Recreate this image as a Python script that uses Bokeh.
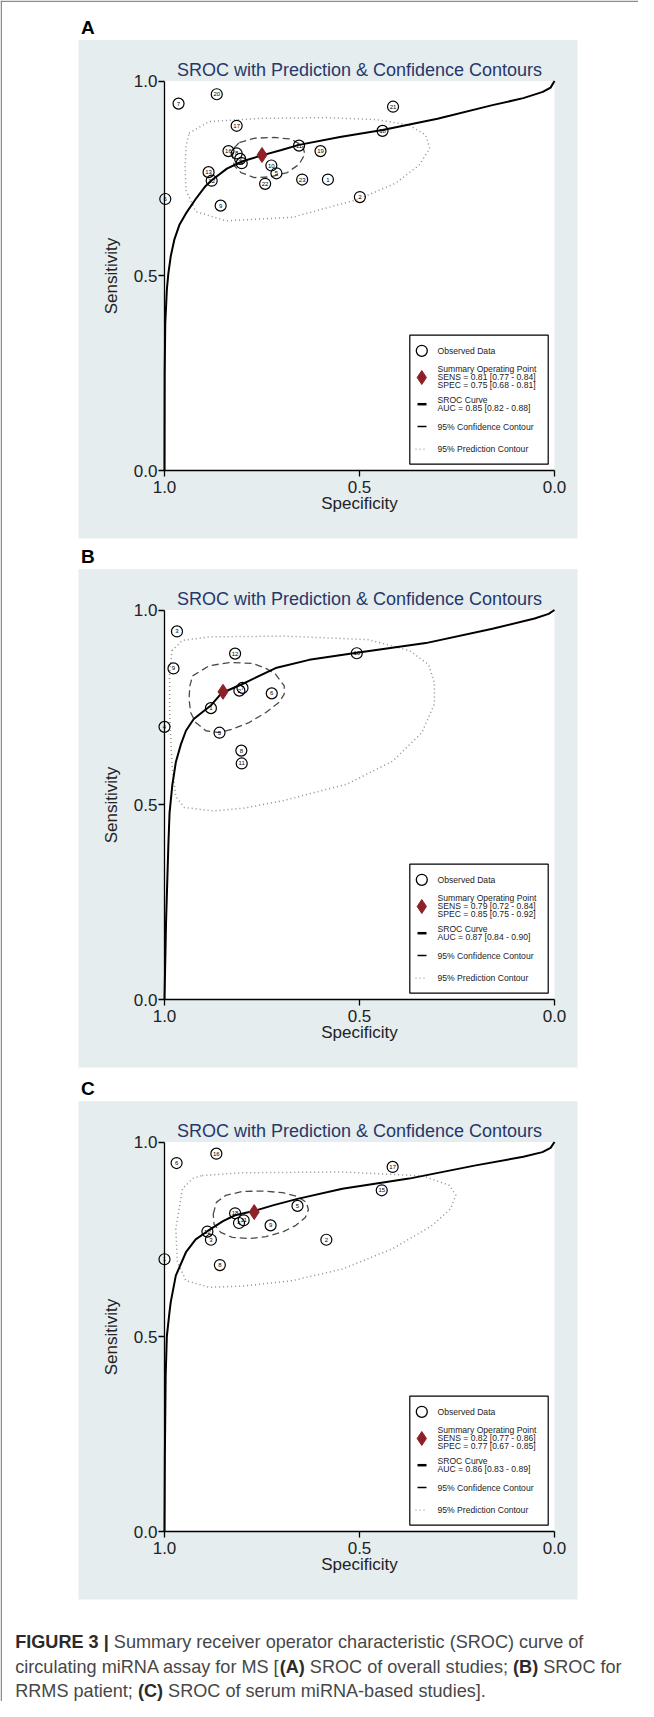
from bokeh.plotting import figure
from bokeh.models import Range1d, LinearAxis, FixedTicker, NumeralTickFormatter
from bokeh.core.properties import value
from bokeh.embed import file_html
from bokeh.resources import INLINE

# ---------------- data ----------------
# Panel A: overall studies
A_labels = ["1", "2", "3", "4", "5", "6", "7", "8", "9", "10", "11", "12", "13",
            "16", "17", "18", "19", "20", "21", "22", "23"]
A_spec = [0.581, 0.499, 0.806, 0.802, 0.713, 0.998, 0.964, 0.815, 0.856, 0.726, 0.655,
          0.879, 0.887, 0.836, 0.815, 0.441, 0.600, 0.866, 0.414, 0.742, 0.647]
A_sens = [0.747, 0.702, 0.800, 0.789, 0.763, 0.697, 0.942, 0.814, 0.680, 0.783, 0.834,
          0.744, 0.766, 0.820, 0.885, 0.872, 0.820, 0.966, 0.934, 0.736, 0.747]
A_summary_spec = [0.75]
A_summary_sens = [0.81]
A_curve_spec = [1.000, 0.9995, 0.998, 0.996, 0.994, 0.990, 0.984, 0.975, 0.962, 0.945, 0.920,
                0.895, 0.879, 0.840, 0.800, 0.750, 0.700, 0.655, 0.550, 0.441, 0.300, 0.159,
                0.080, 0.030, 0.010, 0.000]
A_curve_sens = [0.000, 0.250, 0.380, 0.420, 0.464, 0.507, 0.550, 0.592, 0.630, 0.660, 0.697,
                0.730, 0.745, 0.775, 0.794, 0.809, 0.823, 0.836, 0.856, 0.874, 0.903, 0.938,
                0.956, 0.972, 0.983, 1.000]
A_conf_spec = [0.808, 0.770, 0.719, 0.676, 0.646, 0.640, 0.655, 0.685, 0.727, 0.770, 0.804,
               0.821, 0.826, 0.821]
A_conf_sens = [0.842, 0.853, 0.855, 0.851, 0.834, 0.812, 0.786, 0.765, 0.754, 0.752, 0.765,
               0.782, 0.812, 0.829]
A_pred_spec = [0.937, 0.885, 0.757, 0.586, 0.458, 0.373, 0.330, 0.320, 0.347, 0.407, 0.501,
               0.672, 0.843, 0.920, 0.945, 0.947, 0.945]
A_pred_sens = [0.866, 0.896, 0.904, 0.906, 0.901, 0.887, 0.861, 0.827, 0.784, 0.738, 0.697,
               0.650, 0.641, 0.665, 0.720, 0.780, 0.831]
A_stats = ["SENS = 0.81 [0.77 - 0.84]", "SPEC = 0.75 [0.68 - 0.81]", "AUC = 0.85 [0.82 - 0.88]"]

# Panel B: RRMS patients
B_labels = ["1", "2", "3", "4", "5", "6", "7", "8", "9", "10", "11", "12"]
B_spec = [0.881, 0.808, 0.968, 1.000, 0.859, 0.725, 0.800, 0.803, 0.977, 0.507, 0.802, 0.819]
B_sens = [0.748, 0.793, 0.945, 0.700, 0.685, 0.786, 0.800, 0.639, 0.850, 0.889, 0.606, 0.888]
B_summary_spec = [0.85]
B_summary_sens = [0.79]
B_curve_spec = [1.000, 0.998, 0.996, 0.993, 0.990, 0.987, 0.980, 0.971, 0.958, 0.945, 0.925,
                0.900, 0.881, 0.853, 0.800, 0.715, 0.629, 0.507, 0.330, 0.159, 0.051, 0.015,
                0.000]
B_curve_sens = [0.000, 0.100, 0.200, 0.300, 0.400, 0.480, 0.550, 0.609, 0.655, 0.690, 0.720,
                0.740, 0.755, 0.787, 0.810, 0.851, 0.872, 0.890, 0.915, 0.952, 0.978, 0.990,
                1.000]
B_conf_spec = [0.928, 0.885, 0.834, 0.774, 0.740, 0.715, 0.693, 0.693, 0.706, 0.740, 0.783,
               0.826, 0.860, 0.894, 0.920, 0.933, 0.937, 0.935]
B_conf_sens = [0.831, 0.857, 0.865, 0.863, 0.850, 0.835, 0.805, 0.784, 0.763, 0.737, 0.711,
               0.694, 0.685, 0.690, 0.711, 0.737, 0.771, 0.805]
B_pred_spec = [0.981, 0.954, 0.885, 0.693, 0.479, 0.372, 0.323, 0.308, 0.308, 0.340, 0.415,
               0.532, 0.693, 0.799, 0.874, 0.949, 0.971, 0.981, 0.987, 0.987]
B_pred_sens = [0.896, 0.922, 0.931, 0.933, 0.924, 0.896, 0.860, 0.814, 0.759, 0.685, 0.612,
               0.553, 0.511, 0.491, 0.484, 0.493, 0.521, 0.603, 0.740, 0.832]
B_stats = ["SENS = 0.79 [0.72 - 0.84]", "SPEC = 0.85 [0.75 - 0.92]", "AUC = 0.87 [0.84 - 0.90]"]

# Panel C: serum miRNA-based studies
C_labels = ["1", "2", "3", "4", "5", "6", "8", "9", "11", "12", "15", "16", "17", "18"]
C_spec = [1.000, 0.585, 0.881, 0.809, 0.659, 0.969, 0.858, 0.728, 0.797, 0.890, 0.443, 0.867,
          0.415, 0.819]
C_sens = [0.699, 0.749, 0.749, 0.792, 0.836, 0.946, 0.684, 0.786, 0.799, 0.770, 0.876, 0.970,
          0.936, 0.817]
C_summary_spec = [0.77]
C_summary_sens = [0.82]
C_curve_spec = [1.000, 0.999, 0.997, 0.994, 0.987, 0.984, 0.971, 0.945, 0.920, 0.890, 0.850,
                0.819, 0.774, 0.720, 0.659, 0.544, 0.373, 0.202, 0.080, 0.031, 0.010, 0.000]
C_curve_sens = [0.000, 0.200, 0.400, 0.501, 0.565, 0.589, 0.657, 0.717, 0.750, 0.771, 0.797,
                0.812, 0.822, 0.838, 0.854, 0.880, 0.906, 0.940, 0.962, 0.974, 0.985, 1.000]
C_conf_spec = [0.875, 0.867, 0.843, 0.800, 0.749, 0.697, 0.659, 0.636, 0.631, 0.639, 0.663,
               0.697, 0.740, 0.783, 0.826, 0.856, 0.873]
C_conf_sens = [0.815, 0.845, 0.863, 0.873, 0.874, 0.870, 0.860, 0.845, 0.826, 0.806, 0.786,
               0.769, 0.757, 0.752, 0.755, 0.768, 0.789]
C_pred_spec = [0.903, 0.800, 0.544, 0.338, 0.270, 0.253, 0.266, 0.313, 0.415, 0.544, 0.672,
               0.800, 0.885, 0.945, 0.967, 0.971, 0.954, 0.928]
C_pred_sens = [0.914, 0.921, 0.923, 0.913, 0.889, 0.863, 0.829, 0.786, 0.726, 0.674, 0.644,
               0.630, 0.627, 0.644, 0.692, 0.777, 0.880, 0.906]
C_stats = ["SENS = 0.82 [0.77 - 0.86]", "SPEC = 0.77 [0.67 - 0.85]", "AUC = 0.86 [0.83 - 0.89]"]

TITLE = "SROC with Prediction & Confidence Contours"
# caption: (text, bold) runs per line
CAPTION = [
    [("FIGURE 3 |", True), (" Summary receiver operator characteristic (SROC) curve of", False)],
    [("circulating miRNA assay for MS [", False), ("(A)", True), (" SROC of overall studies; ", False),
     ("(B)", True), (" SROC for", False)],
    [("RRMS patient; ", False), ("(C)", True), (" SROC of serum miRNA-based studies].", False)],
]

# ---------------- layout (canvas pixels) ----------------
W, H = 638, 1701
XL, XR = 164.0, 554.0      # canvas x of specificity 1.0 and 0.0
PH = 389.5                 # height of the unit square
FONT = "Liberation Sans"
CAP_SIZE = 18.1

# Arial-compatible advance widths (1/1000 em) used to lay out mixed bold/regular caption runs
REG_W = {' ': 278, '(': 333, ')': 333, '[': 278, ']': 278, ';': 278, '-': 333, '.': 278, '|': 260,
         'A': 667, 'B': 667, 'C': 722, 'M': 833, 'N': 722, 'O': 778, 'R': 722, 'S': 667,
         'a': 556, 'b': 556, 'c': 500, 'd': 556, 'e': 556, 'f': 278, 'g': 556, 'h': 556,
         'i': 222, 'l': 222, 'm': 833, 'n': 556, 'o': 556, 'p': 556, 'r': 333, 's': 500,
         't': 278, 'u': 556, 'v': 500, 'y': 500}
BOLD_W = {' ': 278, '(': 333, ')': 333, '|': 280, '3': 556, 'A': 722, 'B': 722, 'C': 722,
          'E': 667, 'F': 611, 'G': 778, 'I': 278, 'R': 722, 'U': 722}


def text_width(s, bold):
    table = BOLD_W if bold else REG_W
    return sum(table.get(ch, 556) for ch in s) / 1000.0 * CAP_SIZE


p = figure(width=W, height=H, x_range=Range1d(0, W), y_range=Range1d(H, 0),
           x_axis_type=None, y_axis_type=None, output_backend="svg",
           toolbar_location=None, min_border=0, outline_line_color=None)
p.background_fill_color = "white"
p.border_fill_color = "white"

panels = [
    ("A", 80.5, A_labels, A_spec, A_sens, A_summary_spec, A_summary_sens, A_curve_spec, A_curve_sens,
     A_conf_spec, A_conf_sens, A_pred_spec, A_pred_sens, A_stats),
    ("B", 609.5, B_labels, B_spec, B_sens, B_summary_spec, B_summary_sens, B_curve_spec, B_curve_sens,
     B_conf_spec, B_conf_sens, B_pred_spec, B_pred_sens, B_stats),
    ("C", 1141.5, C_labels, C_spec, C_sens, C_summary_spec, C_summary_sens, C_curve_spec, C_curve_sens,
     C_conf_spec, C_conf_sens, C_pred_spec, C_pred_sens, C_stats),
]

xr_all, yr_all = {}, {}
for key, top, *_ in panels:
    xr_all["x" + key] = Range1d(1 + XL / (XR - XL), 1 - (W - XL) / (XR - XL))
    yr_all["y" + key] = Range1d(1 - (H - top) / PH, 1 + top / PH)
p.extra_x_ranges = xr_all
p.extra_y_ranges = yr_all

# page border (left and top)
p.segment(x0=[0.75, 0], y0=[0, 0.75], x1=[0.75, W], y1=[H, 0.75], line_color="#8c8c8c", line_width=1.5)

for (key, top, labels, spec, sens, sspec, ssens, cspec, csens,
     fspec, fsens, pspec, psens, stats) in panels:
    bottom = top + PH
    rn = dict(x_range_name="x" + key, y_range_name="y" + key)
    # panel background
    p.quad(left=[78], right=[577], top=[top - 41], bottom=[bottom + 68],
           fill_color="#e5edef", line_color=None)
    # white data area
    p.quad(left=[1], right=[0], bottom=[0], top=[1], fill_color="white", line_color=None, **rn)
    # panel letter & title
    p.text(x=[80.5], y=[top - 54], text=[key], text_font=value(FONT), text_font_size="19px",
           text_font_style="bold", text_baseline="middle", text_align="left", text_color="black")
    p.text(x=[359], y=[top - 11.5], text=[TITLE], text_font=value(FONT), text_font_size="18px",
           text_baseline="middle", text_align="center", text_color="#26386a")

    # contours and curve
    p.line(pspec + pspec[:1], psens + psens[:1], line_color="#8f8f8f", line_width=1.5,
           line_dash="1 3", **rn)
    p.line(fspec + fspec[:1], fsens + fsens[:1], line_color="#4a4a4a", line_width=1.3,
           line_dash="7 4", **rn)
    p.line(cspec, csens, line_color="black", line_width=2, **rn)

    # observed data
    p.scatter(spec, sens, marker="circle", size=11, fill_color=None, line_color="black",
              line_width=1.2, **rn)
    p.text(spec, sens, text=labels, text_font=value(FONT), text_font_size="6px",
           text_align="center", text_baseline="middle", text_color="black", **rn)
    # summary operating point
    p.scatter(sspec, ssens, marker="diamond", size=15, fill_color="#8e2127",
              line_color="#8e2127", **rn)

    # axes
    yax = LinearAxis(fixed_location=1.0, bounds=(0, 1), ticker=FixedTicker(ticks=[0, 0.5, 1]),
                     formatter=NumeralTickFormatter(format="0.0"), axis_label="Sensitivity", **rn)
    xax = LinearAxis(fixed_location=0.0, bounds=(0, 1), ticker=FixedTicker(ticks=[0, 0.5, 1]),
                     formatter=NumeralTickFormatter(format="0.0"), axis_label="Specificity", **rn)
    for ax in (yax, xax):
        ax.axis_line_color = "black"
        ax.axis_line_width = 1.3
        ax.major_tick_line_color = "black"
        ax.major_tick_line_width = 1.3
        ax.major_tick_out = 6
        ax.major_tick_in = 0
        ax.minor_tick_out = 0
        ax.minor_tick_in = 0
        ax.major_label_text_font = FONT
        ax.major_label_text_font_size = "17px"
        ax.major_label_text_color = "#222222"
        ax.axis_label_text_font = FONT
        ax.axis_label_text_font_size = "17px"
        ax.axis_label_text_font_style = "normal"
        ax.axis_label_text_color = "#222222"
    yax.major_label_standoff = 1
    yax.axis_label_standoff = 10
    xax.major_label_standoff = 4
    xax.axis_label_standoff = -2
    p.add_layout(yax, "left")
    p.add_layout(xax, "below")

    # legend box
    lt = top + 254.2
    p.quad(left=[409.3], right=[547.7], top=[lt], bottom=[lt + 129], fill_color="white",
           line_color="black", line_width=1.2)
    p.scatter([421.3], [lt + 15.6], marker="circle", size=11, fill_color=None,
              line_color="black", line_width=1.3)
    p.scatter([421.3], [lt + 42.3], marker="diamond", size=14, fill_color="#8e2127",
              line_color="#8e2127")
    p.segment(x0=[417], y0=[lt + 69], x1=[426], y1=[lt + 69], line_color="black", line_width=2.5)
    p.segment(x0=[417], y0=[lt + 91.3], x1=[426], y1=[lt + 91.3], line_color="black",
              line_width=1.5)
    p.segment(x0=[415], y0=[lt + 114], x1=[426], y1=[lt + 114], line_color="#9a9a9a",
              line_width=1.3, line_dash="1 3")
    leg_y = [lt + 15.6, lt + 34, lt + 41.8, lt + 49.6, lt + 64.8, lt + 72.8, lt + 91.3, lt + 114]
    leg_t = ["Observed Data", "Summary Operating Point", stats[0], stats[1], "SROC Curve",
             stats[2], "95% Confidence Contour", "95% Prediction Contour"]
    p.text(x=[437] * len(leg_t), y=leg_y, text=leg_t, text_font=value(FONT),
           text_font_size="8.6px", text_baseline="middle", text_align="left",
           text_color="#222222")

# caption (runs laid out left to right)
cap_y = [1641.5, 1666.3, 1690.5]
for line, cy in zip(CAPTION, cap_y):
    cx = 14.7
    for txt, bold in line:
        lead = len(txt) - len(txt.lstrip(" "))
        shown = txt.strip(" ")
        x0 = cx + text_width(" " * lead, bold)
        p.text(x=[x0], y=[cy], text=[shown], text_font=value(FONT),
               text_font_size=f"{CAP_SIZE}px",
               text_font_style="bold" if bold else "normal", text_baseline="middle",
               text_align="left", text_color="#2b2b2b" if bold else "#474747")
        cx += text_width(txt, bold)

open("out.html", "w").write(file_html(p, INLINE))
